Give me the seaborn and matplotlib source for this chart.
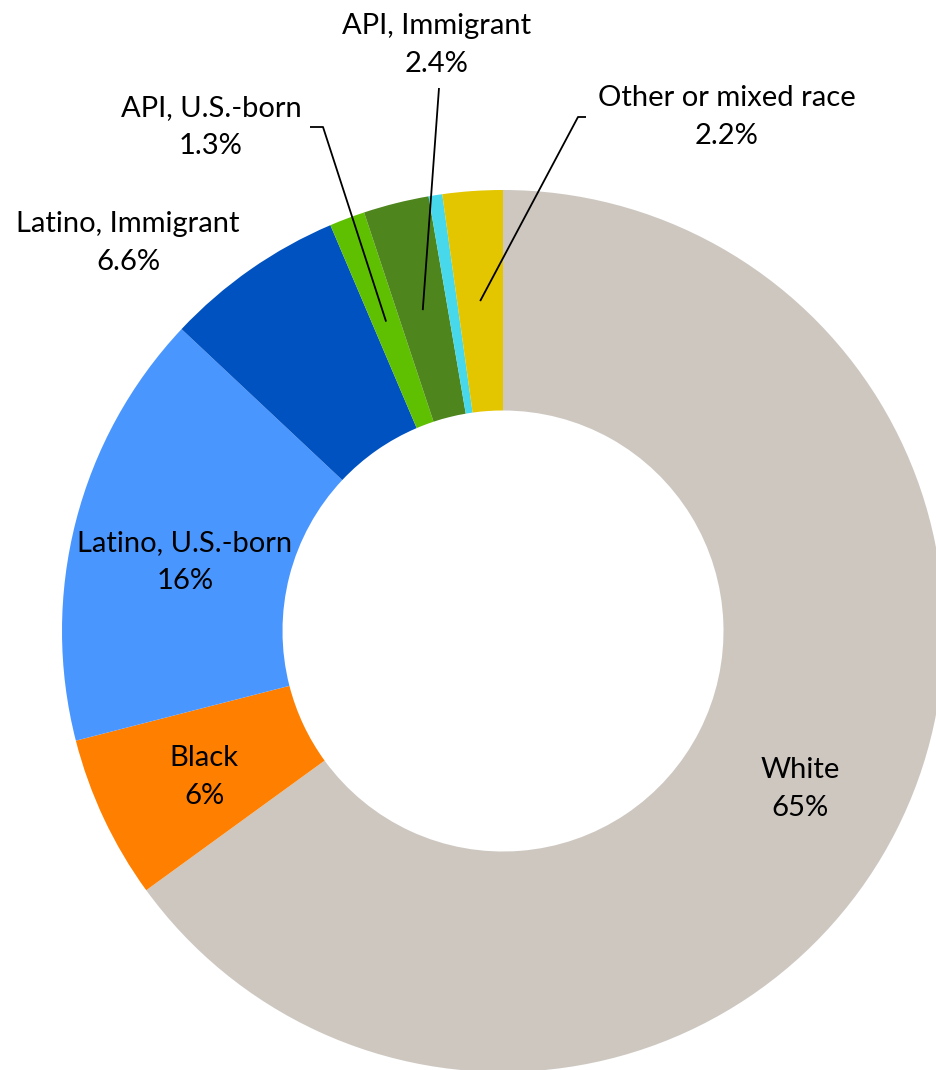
import numpy as np
import matplotlib
matplotlib.use("Agg")
import matplotlib.pyplot as plt
import seaborn as sns

# ---- data ----
categories = ["White", "Black", "Latino, U.S.-born", "Latino, Immigrant",
              "API, U.S.-born", "API, Immigrant", "Native American", "Other or mixed race"]
values = [65, 6, 16, 6.6, 1.3, 2.4, 0.5, 2.2]
value_labels = ["65%", "6%", "16%", "6.6%", "1.3%", "2.4%", "", "2.2%"]
colors = ["#CDC7C0", "#FF7F00", "#4A96FF", "#0052C1", "#5EC000", "#4E861D", "#48D8EB", "#E3C500"]

sns.set_theme(style="white")
plt.rcParams["font.family"] = ["Lato", "DejaVu Sans"]

W, H = 936, 1070
fig = plt.figure(figsize=(W / 100, H / 100), dpi=100)
ax = fig.add_axes([0, 0, 1, 1])

cx, cy, R = 503, H - 631, 441
wedges, _ = ax.pie(values, colors=colors, startangle=90, counterclock=False,
                   radius=R, center=(cx, cy), frame=True,
                   wedgeprops=dict(width=R * 0.5, linewidth=0))
ax.set_xlim(0, W)
ax.set_ylim(0, H)
ax.set_aspect("equal")
ax.axis("off")

fs = 21
# label centres (x, y from top)
inside = {0: (800, 789), 1: (204, 777), 2: (185, 562)}
outside = {3: (128, 243), 4: (211, 127), 5: (437, 45), 7: (727, 117)}
for i, (x, y) in {**inside, **outside}.items():
    ax.text(x, H - y, f"{categories[i]}\n{value_labels[i]}", ha="center", va="center",
            fontsize=fs, color="black", linespacing=1.55)

# leader lines: anchor at 0.75R on wedge mid angle
leaders = {4: [(323, 127), (310, 127)], 5: [(439, 88)], 7: [(578, 117), (586, 117)]}
for i, pts in leaders.items():
    w = wedges[i]
    ang = np.deg2rad((w.theta1 + w.theta2) / 2)
    ax_, ay_ = cx + 0.75 * R * np.cos(ang), cy + 0.75 * R * np.sin(ang)
    xs = [ax_] + [p[0] for p in pts]
    ys = [ay_] + [H - p[1] for p in pts]
    ax.plot(xs, ys, color="black", linewidth=1.3, solid_capstyle="butt")

fig.savefig("out.png", dpi=100)
